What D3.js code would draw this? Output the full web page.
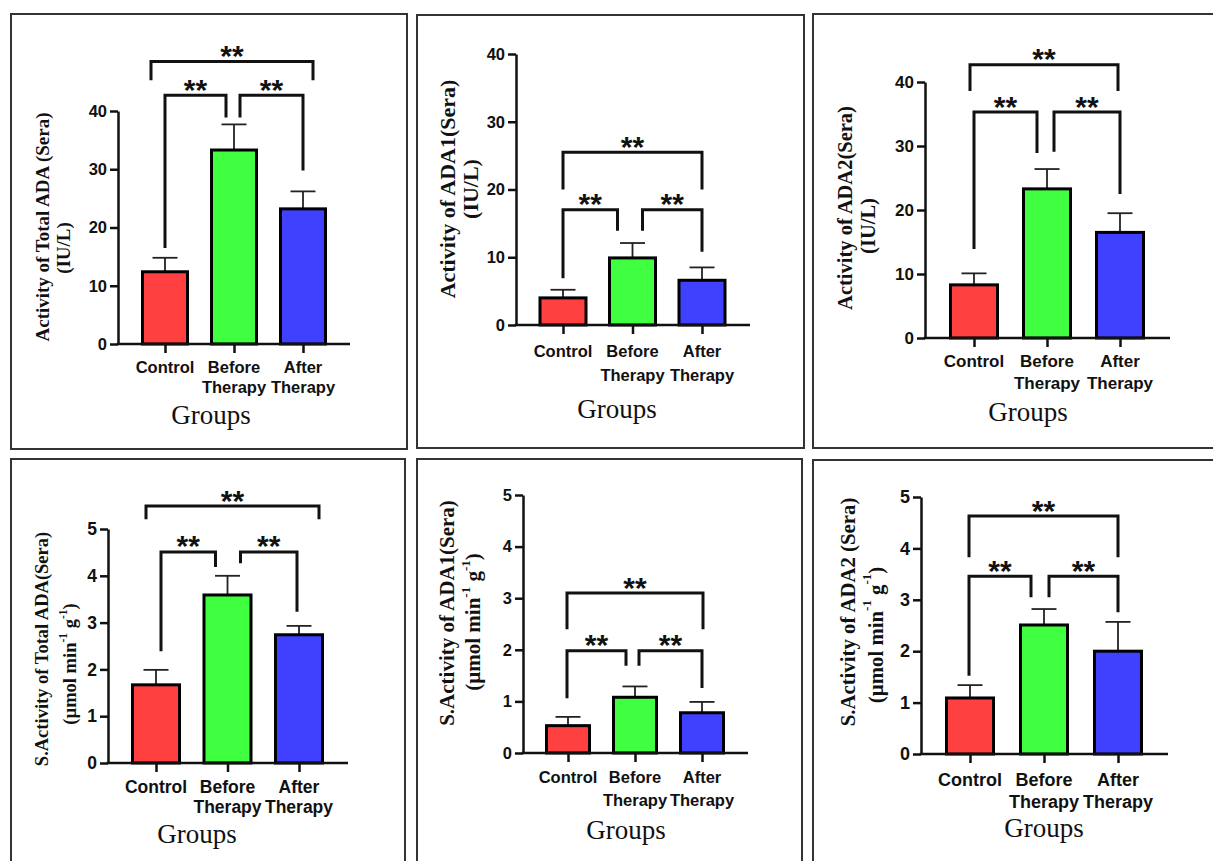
<!DOCTYPE html>
<html>
<head>
<meta charset="utf-8">
<script src="https://cdn.jsdelivr.net/npm/d3@7"></script>
<style>
  body { margin: 0; background: #fff; }
</style>
</head>
<body>
<div id="chart"></div>
<script>
// x axis groups and bar colours
var groups = ["Control", "Before Therapy", "After Therapy"];
var barColors = ["#ff4040", "#40ff40", "#4040ff"];

// activity (IU/L): means and upper error (SD)
var totalAda = [12.4, 33.3, 23.2];
var totalAdaErr = [2.4, 4.4, 3.0];
var ada1 = [4.0, 9.9, 6.6];
var ada1Err = [1.2, 2.2, 1.9];
var ada2 = [8.3, 23.3, 16.5];
var ada2Err = [1.8, 3.1, 3.0];

// specific activity (umol min-1 g-1)
var sTotalAda = [1.67, 3.59, 2.74];
var sTotalAdaErr = [0.32, 0.41, 0.19];
var sAda1 = [0.53, 1.08, 0.78];
var sAda1Err = [0.17, 0.21, 0.21];
var sAda2 = [1.09, 2.51, 2.0];
var sAda2Err = [0.25, 0.31, 0.57];

var ticksIU = [0, 10, 20, 30, 40];
var ticksS = [0, 1, 2, 3, 4, 5];

// significance brackets: [from, to, level, left leg end, right leg end, label]
var brTotalAda = [[0, 1, 42.7, 16.5, 38.9, "**"], [1, 2, 42.7, 38.9, 29.8, "**"], [0, 2, 48.5, 45.3, 45.3, "**"]];
var brAda1 = [[0, 1, 17.0, 6.9, 13.9, "**"], [1, 2, 17.0, 13.9, 10.8, "**"], [0, 2, 25.5, 20.0, 20.0, "**"]];
var brAda2 = [[0, 1, 35.3, 13.9, 28.9, "**"], [1, 2, 35.3, 29.1, 22.5, "**"], [0, 2, 42.7, 38.6, 38.6, "**"]];
var brSTotalAda = [[0, 1, 4.51, 2.39, 4.19, "**"], [1, 2, 4.51, 4.27, 3.23, "**"], [0, 2, 5.49, 5.21, 5.21, "**"]];
var brSAda1 = [[0, 1, 1.98, 1.06, 1.69, "**"], [1, 2, 1.98, 1.69, 1.26, "**"], [0, 2, 3.10, 2.40, 2.40, "**"]];
var brSAda2 = [[0, 1, 3.46, 1.52, 3.05, "**"], [1, 2, 3.46, 3.05, 2.76, "**"], [0, 2, 4.63, 3.83, 3.83, "**"]];

// y axis titles
var titleTotalAda = "Activity of Total ADA (Sera)";
var titleAda1 = "Activity of ADA1(Sera)";
var titleAda2 = "Activity of ADA2(Sera)";
var titleSTotalAda = "S.Activity of Total ADA(Sera)";
var titleSAda1 = "S.Activity of ADA1(Sera)";
var titleSAda2 = "S.Activity of ADA2 (Sera)";

// panel layout (pixels)
var panels = [
  { vals: totalAda, errs: totalAdaErr, br: brTotalAda, ticks: ticksIU, title: titleTotalAda, unit: "iu",
    frame: [11, 14, 407, 449], ax: 118, xEnd: 350, yTop: 111, y0: 344, c: [165, 303], barW: 45,
    lab: [42, 63, 227, 248], labFs: 19, fs: 16.5, cat: [373, 20], grp: [211, 424],
    off: [[0, -8], [6, 0], [-14, 10]] },
  { vals: ada1, errs: ada1Err, br: brAda1, ticks: ticksIU, title: titleAda1, unit: "iu",
    frame: [417, 15, 804, 448], ax: 516, xEnd: 750, yTop: 54, y0: 325, c: [563, 702], barW: 46,
    lab: [447, 470, 189, 189], labFs: 22, fs: 16.5, cat: [357, 24], grp: [617, 418],
    off: [[0, -15], [10, 0], [0, 0]] },
  { vals: ada2, errs: ada2Err, br: brAda2, ticks: ticksIU, title: titleAda2, unit: "iu",
    frame: [813, 14, 1240, 448], ax: 925, xEnd: 1170, yTop: 82, y0: 338, c: [974, 1120], barW: 47,
    lab: [845, 868, 208, 226], labFs: 20.5, fs: 17, cat: [367, 22], grp: [1028, 421],
    off: [[0, -10], [7, 0], [-4, -2]] },
  { vals: sTotalAda, errs: sTotalAdaErr, br: brSTotalAda, ticks: ticksS, title: titleSTotalAda, unit: "s",
    frame: [11, 459, 405, 890], ax: 108, xEnd: 348, yTop: 529, y0: 763, c: [156, 299], barW: 47,
    lab: [42, 70, 649, 664], labFs: 18.5, fs: 17.5, cat: [793, 20], grp: [197, 843],
    off: [[5, -12], [13, -2], [-10, 20]] },
  { vals: sAda1, errs: sAda1Err, br: brSAda1, ticks: ticksS, title: titleSAda1, unit: "s",
    frame: [417, 459, 802, 890], ax: 523, xEnd: 748, yTop: 495, y0: 753, c: [568, 702], barW: 43,
    lab: [447, 473, 613, 622], labFs: 21, fs: 16.5, cat: [783, 23], grp: [626, 839],
    off: [[-1, -9], [4, 0], [-1, 1]] },
  { vals: sAda2, errs: sAda2Err, br: brSAda2, ticks: ticksS, title: titleSAda2, unit: "s",
    frame: [813, 460, 1240, 890], ax: 921, xEnd: 1168, yTop: 497, y0: 754, c: [970, 1118], barW: 47,
    lab: [847, 875, 612, 635], labFs: 20.8, fs: 18, cat: [786, 22], grp: [1044, 837],
    off: [[-1, -13], [5, 0], [-1, 0]] }
];

var sans = "'Liberation Sans', Arial, Helvetica, sans-serif";
var serif = "'Liberation Serif', 'Times New Roman', Times, serif";

var svg = d3.select("#chart")
  .append("svg")
    .attr("width", 1213)
    .attr("height", 861);

panels.forEach(function(p) {
  var g = svg.append("g");

  // frame
  g.append("rect")
    .attr("x", p.frame[0]).attr("y", p.frame[1])
    .attr("width", p.frame[2] - p.frame[0]).attr("height", p.frame[3] - p.frame[1])
    .attr("fill", "none").attr("stroke", "#333").attr("stroke-width", 2);

  var y = d3.scaleLinear()
    .domain([0, p.ticks[p.ticks.length - 1]])
    .range([p.y0, p.yTop]);

  var x = d3.scalePoint()
    .domain(groups)
    .range(p.c);

  // error bars (upper only)
  groups.forEach(function(grp, i) {
    var cx = x(grp);
    g.append("line")
      .attr("x1", cx).attr("x2", cx)
      .attr("y1", y(p.vals[i])).attr("y2", y(p.vals[i] + p.errs[i]))
      .attr("stroke", "#222").attr("stroke-width", 1.8);
    g.append("line")
      .attr("x1", cx - 12.5).attr("x2", cx + 12.5)
      .attr("y1", y(p.vals[i] + p.errs[i])).attr("y2", y(p.vals[i] + p.errs[i]))
      .attr("stroke", "#222").attr("stroke-width", 1.8);
  });

  // bars
  g.selectAll("rect.bar")
    .data(p.vals)
    .enter()
    .append("rect")
      .attr("class", "bar")
      .attr("x", function(d, i) { return x(groups[i]) - p.barW / 2; })
      .attr("y", function(d) { return y(d); })
      .attr("width", p.barW)
      .attr("height", function(d) { return y(0) - y(d); })
      .attr("fill", function(d, i) { return barColors[i]; })
      .attr("stroke", "#000")
      .attr("stroke-width", 3);

  // Y axis
  var yg = g.append("g")
    .attr("transform", "translate(" + p.ax + ",0)")
    .call(d3.axisLeft(y).tickValues(p.ticks).tickFormat(d3.format("d"))
      .tickSize(8).tickSizeOuter(0).tickPadding(3));
  yg.selectAll("path, line").attr("stroke", "#111").attr("stroke-width", 2.5);
  yg.selectAll("text")
    .attr("font-family", sans).attr("font-weight", "bold")
    .attr("font-size", p.fs).attr("fill", "#111");

  // X axis
  var xg = g.append("g")
    .attr("transform", "translate(0," + p.y0 + ")")
    .call(d3.axisBottom(x).tickSize(9).tickSizeOuter(0).tickFormat(""));
  xg.select(".domain").remove();
  xg.selectAll("line").attr("stroke", "#111").attr("stroke-width", 2.5);
  xg.append("line")
    .attr("x1", p.ax - 1.25).attr("x2", p.xEnd)
    .attr("stroke", "#111").attr("stroke-width", 2.5);

  // category labels
  groups.forEach(function(grp) {
    var words = grp.split(" ");
    var t = g.append("text")
      .attr("text-anchor", "middle")
      .attr("font-family", sans).attr("font-weight", "bold")
      .attr("font-size", p.fs).attr("fill", "#111");
    words.forEach(function(w, k) {
      t.append("tspan")
        .attr("x", x(grp))
        .attr("y", p.cat[0] + k * p.cat[1])
        .text(w);
    });
  });

  // x title
  g.append("text")
    .attr("x", p.grp[0]).attr("y", p.grp[1])
    .attr("text-anchor", "middle")
    .attr("font-family", serif).attr("font-size", 27).attr("fill", "#111")
    .text("Groups");

  // y title, two lines
  g.append("text")
    .attr("transform", "translate(" + p.lab[0] + "," + p.lab[2] + ")rotate(-90)")
    .attr("text-anchor", "middle").attr("dominant-baseline", "central")
    .attr("font-family", serif).attr("font-weight", "bold")
    .attr("font-size", p.labFs).attr("fill", "#111")
    .text(p.title);

  var t2 = g.append("text")
    .attr("transform", "translate(" + p.lab[1] + "," + p.lab[3] + ")rotate(-90)")
    .attr("text-anchor", "middle").attr("dominant-baseline", "central")
    .attr("font-family", serif).attr("font-weight", "bold")
    .attr("font-size", p.labFs).attr("fill", "#111");
  if (p.unit === "iu") {
    t2.text("(IU/L)");
  } else {
    var sup = p.labFs * 0.62;
    t2.append("tspan").text("(µmol min");
    t2.append("tspan").attr("font-size", sup).attr("dy", -p.labFs * 0.4).text("-1");
    t2.append("tspan").attr("dy", p.labFs * 0.4).text(" g");
    t2.append("tspan").attr("font-size", sup).attr("dy", -p.labFs * 0.4).text("-1");
    t2.append("tspan").attr("dy", p.labFs * 0.4).text(")");
  }

  // significance brackets
  p.br.forEach(function(b, k) {
    var xl = x(groups[b[0]]) + p.off[k][0];
    var xr = x(groups[b[1]]) + p.off[k][1];
    g.append("path")
      .attr("d", "M" + xl + "," + y(b[3]) + "V" + y(b[2]) + "H" + xr + "V" + y(b[4]))
      .attr("fill", "none").attr("stroke", "#111").attr("stroke-width", 3);
    g.append("text")
      .attr("x", (xl + xr) / 2).attr("y", y(b[2]) + 4.5)
      .attr("text-anchor", "middle")
      .attr("font-family", sans).attr("font-weight", "bold")
      .attr("font-size", 30).attr("fill", "#111")
      .text(b[5]);
  });
});
</script>
</body>
</html>
